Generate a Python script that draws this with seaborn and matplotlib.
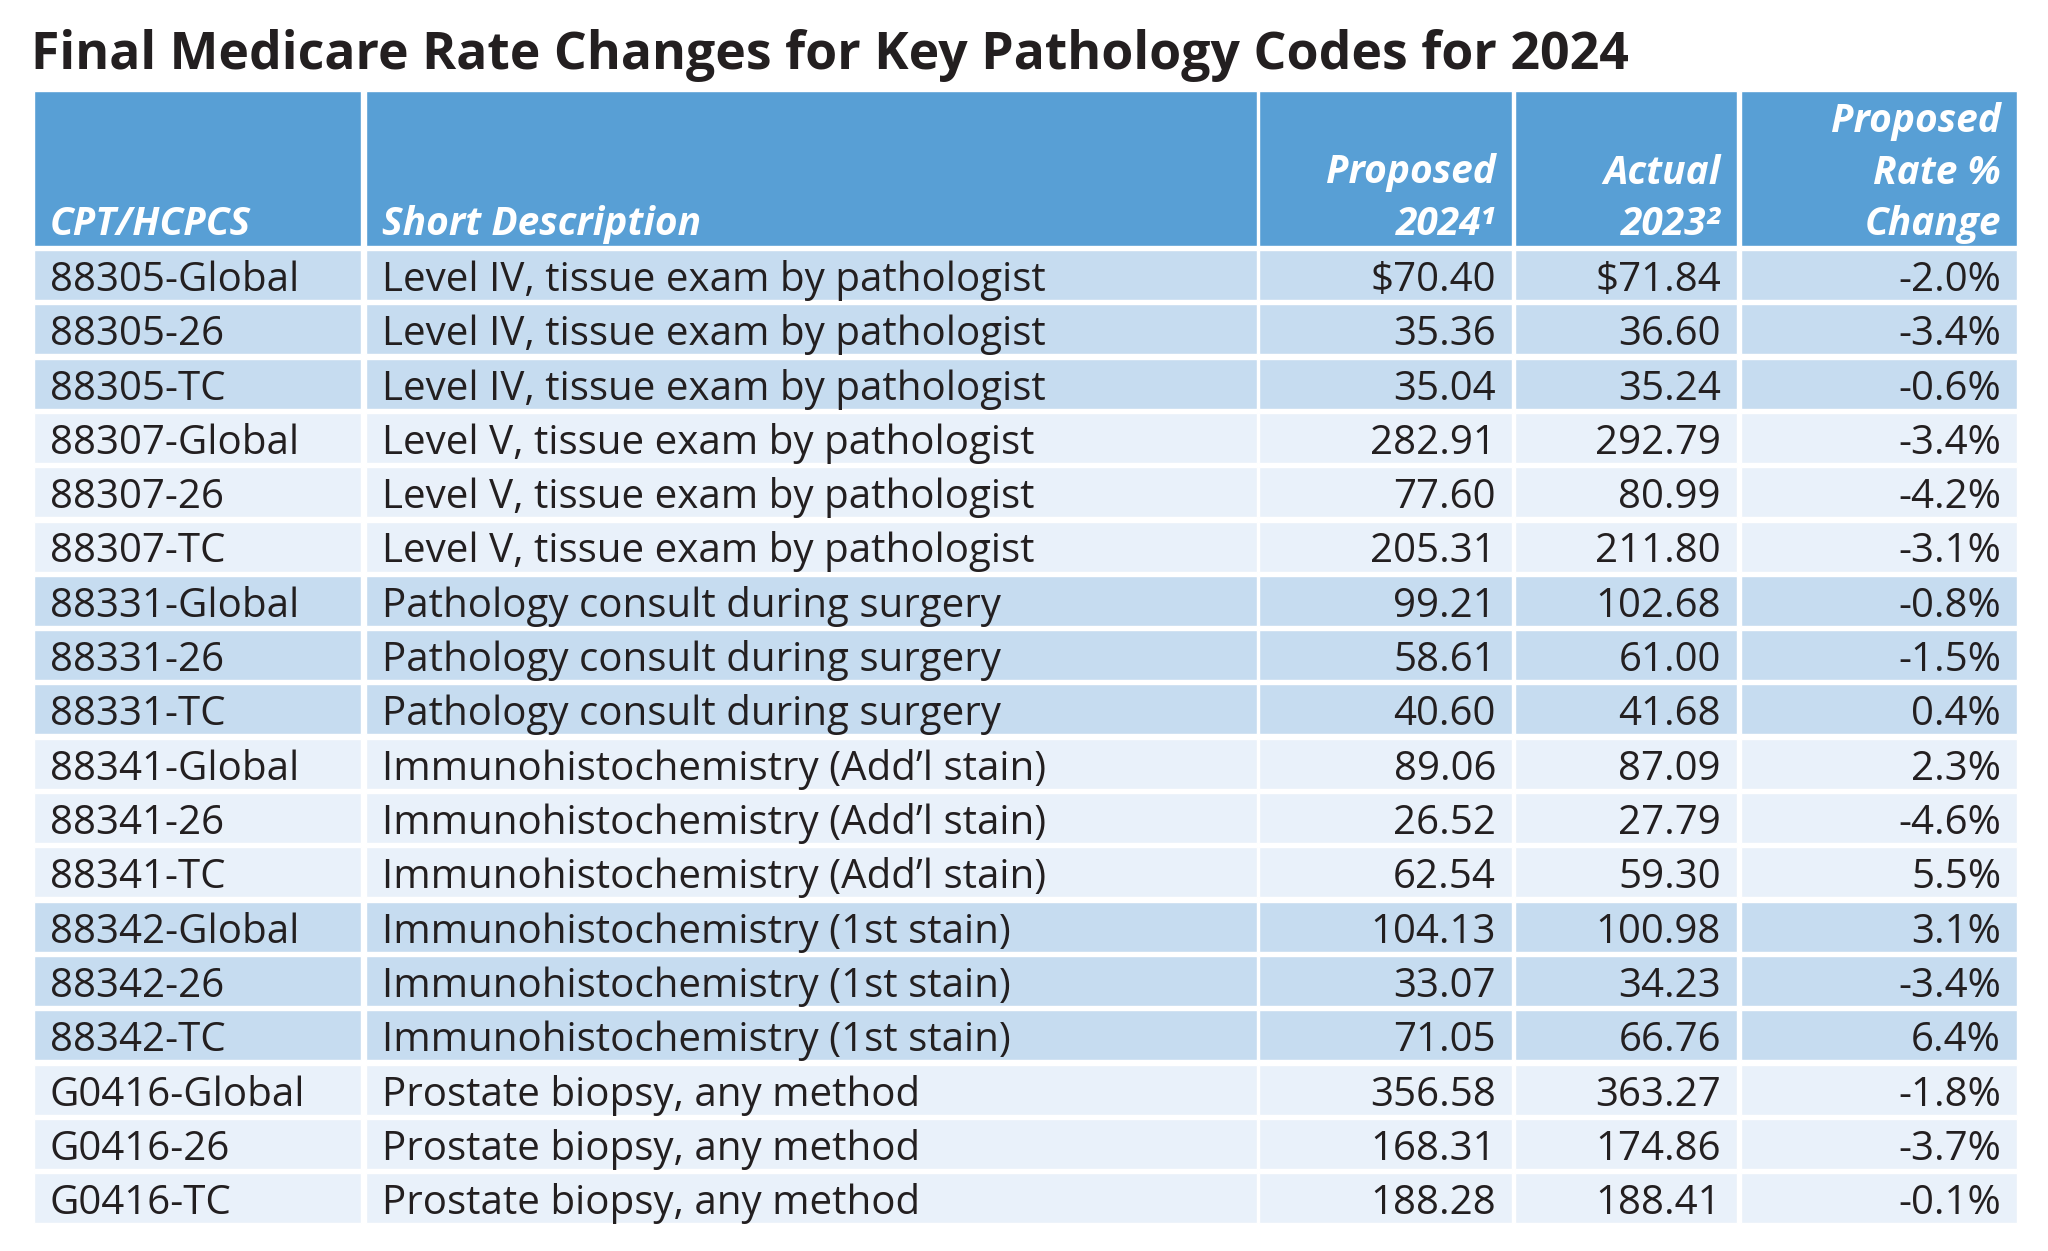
import numpy as np
import pandas as pd
import matplotlib.pyplot as plt
import seaborn as sns

# Dados da tabela
codes = ['88305-Global', '88305-26', '88305-TC',
         '88307-Global', '88307-26', '88307-TC',
         '88331-Global', '88331-26', '88331-TC',
         '88341-Global', '88341-26', '88341-TC',
         '88342-Global', '88342-26', '88342-TC',
         'G0416-Global', 'G0416-26', 'G0416-TC']
descriptions = ['Level IV, tissue exam by pathologist'] * 3 + \
               ['Level V, tissue exam by pathologist'] * 3 + \
               ['Pathology consult during surgery'] * 3 + \
               ['Immunohistochemistry (Add\u2019l stain)'] * 3 + \
               ['Immunohistochemistry (1st stain)'] * 3 + \
               ['Prostate biopsy, any method'] * 3
proposed_2024 = [70.40, 35.36, 35.04, 282.91, 77.60, 205.31, 99.21, 58.61, 40.60,
                 89.06, 26.52, 62.54, 104.13, 33.07, 71.05, 356.58, 168.31, 188.28]
actual_2023 = [71.84, 36.60, 35.24, 292.79, 80.99, 211.80, 102.68, 61.00, 41.68,
               87.09, 27.79, 59.30, 100.98, 34.23, 66.76, 363.27, 174.86, 188.41]
pct_change = [-2.0, -3.4, -0.6, -3.4, -4.2, -3.1, -0.8, -1.5, 0.4,
              2.3, -4.6, 5.5, 3.1, -3.4, 6.4, -1.8, -3.7, -0.1]
headers = ['CPT/HCPCS', 'Short Description', 'Proposed\n2024\u00b9', 'Actual\n2023\u00b2',
           'Proposed\nRate %\nChange']
title = 'Final Medicare Rate Changes for Key Pathology Codes for 2024'

df = pd.DataFrame({'code': codes, 'desc': descriptions, 'prop': proposed_2024,
                   'act': actual_2023, 'pct': pct_change})
df['grupo'] = df['code'].str.split('-').str[0]
df['sombra'] = pd.factorize(df['grupo'])[0] % 2

sns.set_theme(style='white')
plt.rcParams['font.family'] = ['Open Sans', 'DejaVu Sans']

# Layout (pixels)
col_x0 = np.array([34, 366, 1259, 1515, 1741])
col_x1 = np.array([361, 1257, 1512, 1737, 2017])
col_w = col_x1 - col_x0
align = ['left', 'left', 'right', 'right', 'right']
pad = 16
head_top, head_bot = 91, 246
row_top0, row_h, row_pitch = 250, 50, 54.3
header_color = '#589fd5'
shade_colors = ['#c6dcf0', '#e9f1fa']
text_color = '#231f20'

fig = plt.figure(figsize=(20.48, 12.51), dpi=100)
ax = fig.add_axes([0, 0, 1, 1])
ax.set_xlim(0, 2048)
ax.set_ylim(1251, 0)
ax.axis('off')

ax.text(31, 69, title, fontsize=37.3, fontweight='bold', color=text_color, ha='left', va='baseline')

# Cabeçalho
ax.barh(y=[(head_top + head_bot) / 2] * 5, width=col_w, left=col_x0, height=head_bot - head_top,
        color=header_color)
for j, h in enumerate(headers):
    x = col_x0[j] + pad if align[j] == 'left' else col_x1[j] - pad
    lines = h.split('\n')
    for k, line in enumerate(reversed(lines)):
        ax.text(x, 235 - k * 51.5, line, fontsize=28, fontweight='bold', fontstyle='italic',
                color='white', ha=align[j], va='baseline')

# Linhas
for i, r in df.iterrows():
    top = row_top0 + i * row_pitch
    ax.barh(y=[top + row_h / 2] * 5, width=col_w, left=col_x0, height=row_h,
            color=shade_colors[r['sombra']])
    cifrao = '$' if i == 0 else ''
    vals = [r['code'], r['desc'], f"{cifrao}{r['prop']:.2f}", f"{cifrao}{r['act']:.2f}",
            f"{r['pct']:.1f}%"]
    for j, v in enumerate(vals):
        x = col_x0[j] + pad if align[j] == 'left' else col_x1[j] - pad
        ax.text(x, top + 41, v, fontsize=29, color=text_color, ha=align[j], va='baseline')

fig.savefig('out.png', dpi=100)
